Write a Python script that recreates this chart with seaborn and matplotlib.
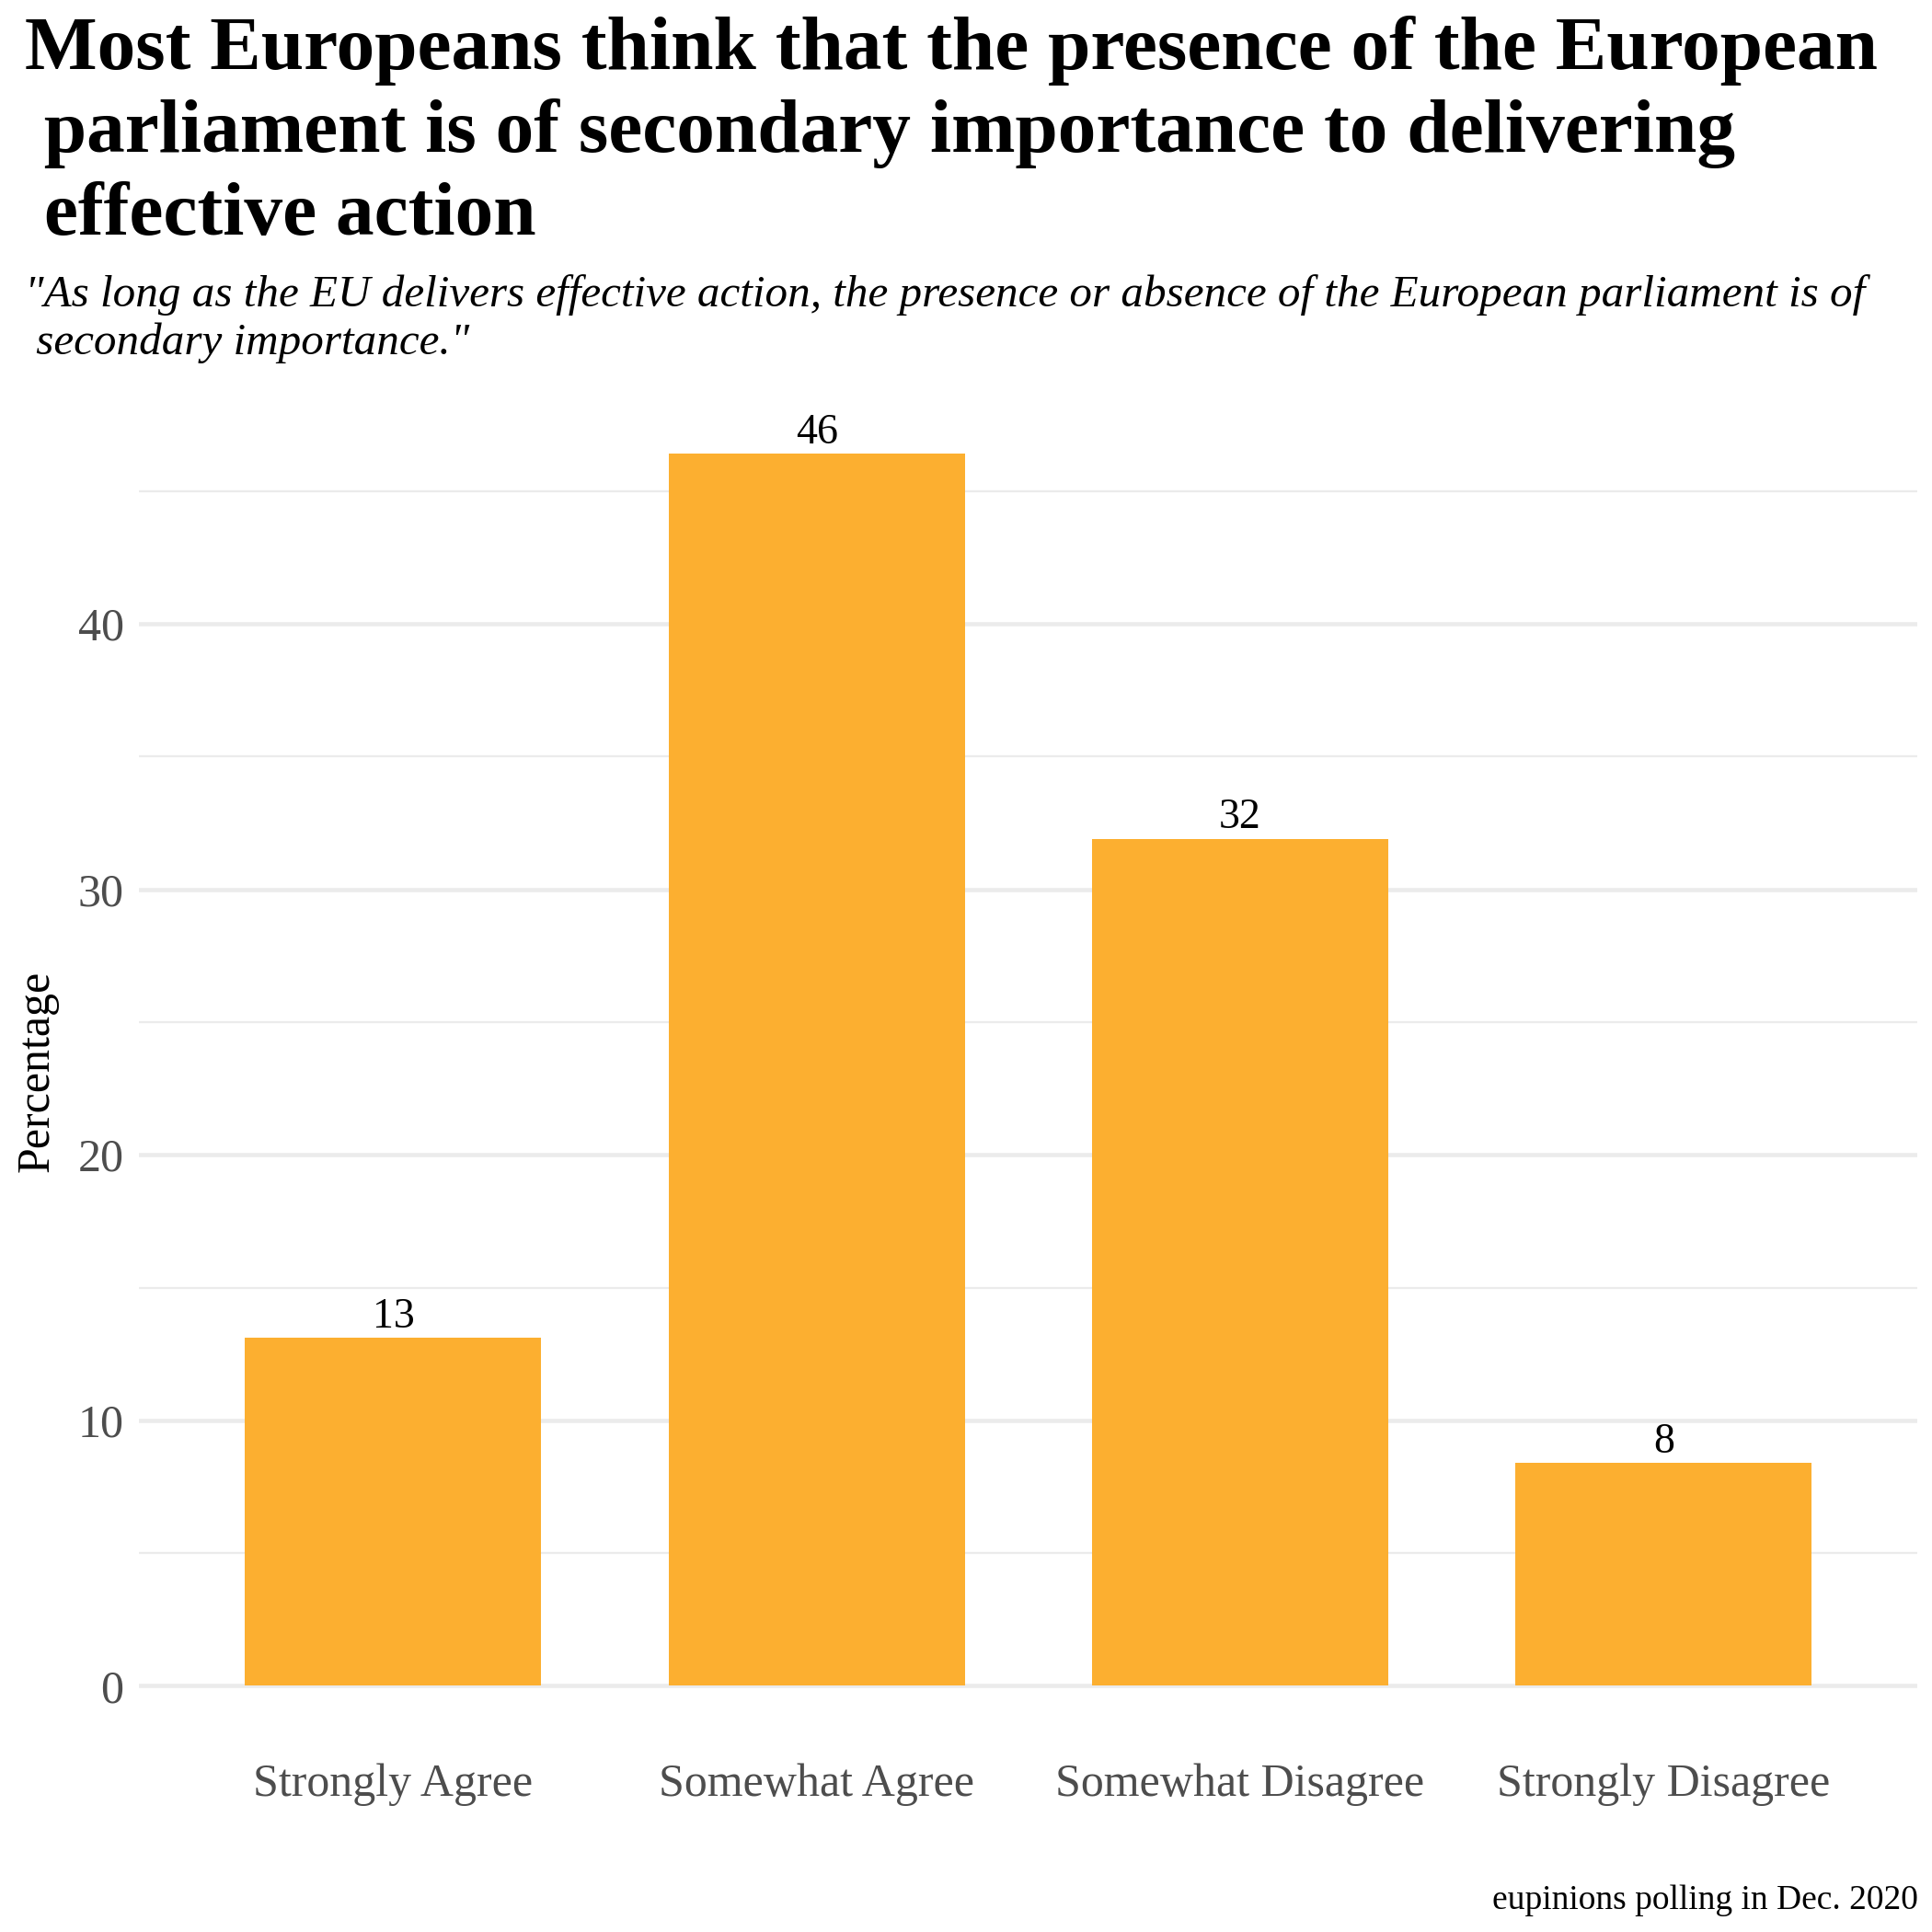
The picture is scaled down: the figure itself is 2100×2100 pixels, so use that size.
import matplotlib
matplotlib.use("Agg")
import matplotlib.pyplot as plt
import seaborn as sns
import pandas as pd
import numpy as np

categories = ["Strongly Agree", "Somewhat Agree", "Somewhat Disagree", "Strongly Disagree"]
values = [13.1, 46.4, 31.9, 8.4]
labels = ["13", "46", "32", "8"]
yticks = [0, 10, 20, 30, 40]

title = ("Most Europeans think that the presence of the European\n"
         " parliament is of secondary importance to delivering\n"
         " effective action")
subtitle = ("\"As long as the EU delivers effective action, the presence or absence of the European parliament is of\n"
            " secondary importance.\"")
caption = "eupinions polling in Dec. 2020"

sns.set_theme(style="white")
plt.rcParams['font.family'] = ['Liberation Serif', 'DejaVu Serif']
plt.rcParams['text.color'] = 'black'

df = pd.DataFrame({"cat": categories, "val": values})

fig = plt.figure(figsize=(7, 7), dpi=300)
ax = fig.add_axes([0.072, 0.0955, 0.9206, 0.7015])

sns.barplot(data=df, x="cat", y="val", order=categories, color="#FCAF30",
            saturation=1, width=0.7, ax=ax, zorder=3, linewidth=0)

ymax = max(values)
ax.set_ylim(-0.05 * ymax, ymax * 1.05)
ax.set_xlim(-0.6, len(categories) - 0.4)

for y in yticks:
    ax.axhline(y, color="#EBEBEB", lw=1.1, zorder=1)
for y in np.arange(5, ymax * 1.05, 10):
    ax.axhline(y, color="#EBEBEB", lw=0.55, zorder=1)

for i, (v, l) in enumerate(zip(values, labels)):
    ax.text(i, v + 0.05, l, ha="center", va="bottom", fontsize=11, color="black")

ax.set_yticks(yticks)
ax.set_yticklabels([str(t) for t in yticks], fontsize=12, color="#4D4D4D")
ax.tick_params(axis="x", labelsize=12, labelcolor="#4D4D4D", pad=4, length=0)
ax.tick_params(axis="y", pad=4, length=0)
ax.set_xlabel("")
ax.set_ylabel("")
for s in ax.spines.values():
    s.set_visible(False)
ax.grid(False)

fig.text(0.019, 0.4455, "Percentage", rotation=90, ha="center", va="center", fontsize=12,
         color="black")
fig.text(0.0128, 0.992, title, ha="left", va="top", fontsize=20, fontweight="bold",
         linespacing=1.25, color="black")
fig.text(0.0128, 0.858, subtitle, ha="left", va="top", fontsize=11.8, style="italic",
         linespacing=1.22, color="black")
fig.text(0.993, 0.008, caption, ha="right", va="bottom", fontsize=9, color="black")

fig.savefig("out.png", dpi=300, facecolor="white")
